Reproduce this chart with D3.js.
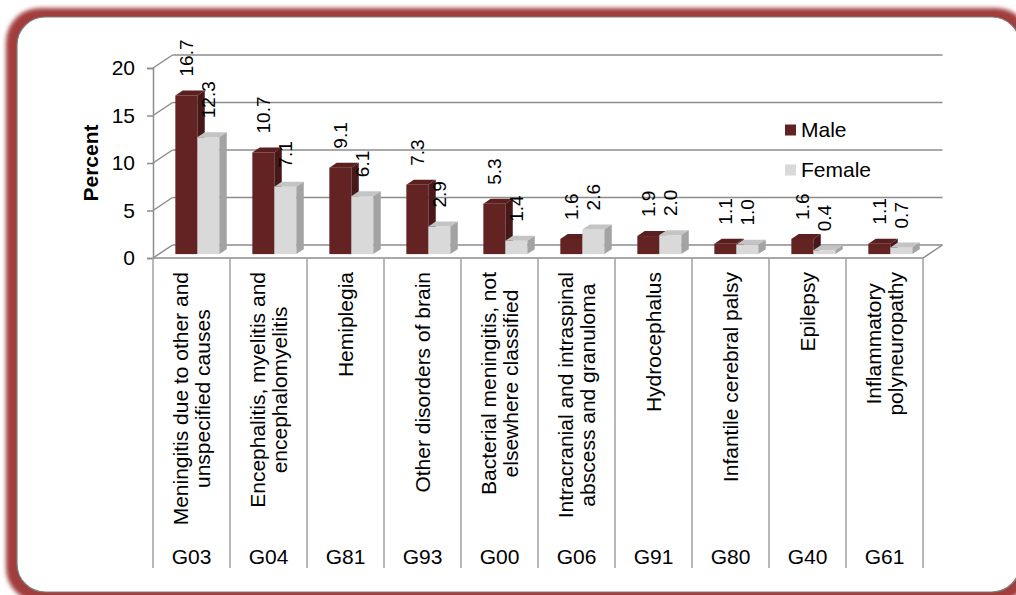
<!DOCTYPE html>
<html><head><meta charset="utf-8">
<script src="https://cdn.jsdelivr.net/npm/d3@7"></script>
<style>
body{margin:0;background:#fff;overflow:hidden}
svg{display:block}
text{font-family:"Liberation Sans",Arial,sans-serif;fill:#000}
</style>
</head><body>
<svg id="c" width="1016" height="595"></svg>
<script>
// ---- data ----
const codes = ["G03","G04","G81","G93","G00","G06","G91","G80","G40","G61"];
const names = [
  ["Meningitis due to other and","unspecified causes"],
  ["Encephalitis, myelitis and","encephalomyelitis"],
  ["Hemiplegia"],
  ["Other disorders of brain"],
  ["Bacterial meningitis, not","elsewhere classified"],
  ["Intracranial and intraspinal","abscess and granuloma"],
  ["Hydrocephalus"],
  ["Infantile cerebral palsy"],
  ["Epilepsy"],
  ["Inflammatory","polyneuropathy"]
];
const male   = [16.7,10.7,9.1,7.3,5.3,1.6,1.9,1.1,1.6,1.1];
const female = [12.3,7.1,6.1,2.9,1.4,2.6,2.0,1.0,0.4,0.7];
const seriesNames = ["Male","Female"];
const yTicks = [0,5,10,15,20];
const yTitle = "Percent";

// ---- layout ----
const svg = d3.select("#c");
const DX = 19.5, DY = -13;           // full depth offset
const T0 = 0.30, TD = 0.38;          // bar depth start / thickness
const x = d3.scaleBand().domain(codes).range([153, 923]).paddingInner(0).paddingOuter(0);
const xs = d3.scaleBand().domain(seriesNames).range([0, x.bandwidth()]).paddingInner(0).paddingOuter(0.75);
const y = d3.scaleLinear().domain([0, 20]).range([258, 68]);
const colors = {
  Male:   {front:"#622322", side:"#471817", top:"#5a1f1e"},
  Female: {front:"#d9d9d9", side:"#a3a3a3", top:"#c4c4c4"}
};
const grid = "#8c8c8c";

// ---- frame ----
const defs = svg.append("defs");
defs.append("filter").attr("id","blur").attr("x","-5%").attr("y","-5%").attr("width","110%").attr("height","110%")
  .append("feGaussianBlur").attr("stdDeviation", 2.2);
svg.append("rect").attr("x",6).attr("y",8).attr("width",1024).attr("height",594).attr("rx",34)
  .attr("fill","#a13c3e").attr("filter","url(#blur)");
svg.append("rect").attr("x",17).attr("y",17).attr("width",1003).attr("height",575).attr("rx",28)
  .attr("fill","#fff").attr("stroke","#7f7f7f").attr("stroke-width",1.2);

const g = svg.append("g");

// back gridlines + diagonals
yTicks.forEach(v => {
  const yy = y(v);
  g.append("line").attr("x1",153).attr("y1",yy).attr("x2",153+DX).attr("y2",yy+DY)
    .attr("stroke",grid).attr("stroke-width",1.5);
  g.append("line").attr("x1",153+DX).attr("y1",yy+DY).attr("x2",923+DX).attr("y2",yy+DY)
    .attr("stroke",grid).attr("stroke-width",1.5);
});
// floor outline
g.append("path").attr("d",`M153,${y(0)}L923,${y(0)}L${923+DX},${y(0)+DY}`)
  .attr("fill","none").attr("stroke",grid).attr("stroke-width",1.5);

// y axis (front)
const yAxis = d3.axisLeft(y).tickValues(yTicks).tickSize(6).tickPadding(12).tickFormat(d3.format("d"));
const ya = g.append("g").attr("transform","translate(153,0)").call(yAxis);
ya.select(".domain").attr("stroke",grid).attr("stroke-width",1.5);
ya.selectAll(".tick line").attr("stroke",grid).attr("stroke-width",1.5);
ya.selectAll(".tick text").attr("font-size",21).attr("font-family",'"Liberation Sans",Arial,sans-serif').attr("fill","#000");

svg.append("text").attr("transform","translate(98,163) rotate(-90)").attr("text-anchor","middle")
  .attr("font-size",21).attr("font-weight","bold").text(yTitle);

// bars
const ox = DX*T0, oy = DY*T0, dx = DX*TD, dy = DY*TD;
codes.forEach((c,i) => {
  const vals = {Male: male[i], Female: female[i]};
  seriesNames.forEach(s => {
    const v = vals[s];
    const x0 = x(c) + xs(s) + ox, x1 = x0 + xs.bandwidth();
    const yt = y(v) + oy, yb = y(0) + oy;
    const col = colors[s];
    g.append("rect").attr("x",x0).attr("y",yt).attr("width",x1-x0).attr("height",yb-yt).attr("fill",col.front);
    g.append("path").attr("d",`M${x0},${yt}L${x1},${yt}L${x1+dx},${yt+dy}L${x0+dx},${yt+dy}Z`).attr("fill",col.top);
    g.append("path").attr("d",`M${x1},${yt}L${x1+dx},${yt+dy}L${x1+dx},${yb+dy}L${x1},${yb}Z`).attr("fill",col.side);
    const cx = (x0+x1)/2;
    g.append("text").attr("transform",`translate(${cx+7},${yt-19}) rotate(-90)`)
      .attr("font-size",19).attr("text-anchor","start").text(d3.format(".1f")(v));
  });
});

// category axis grid (two-level)
const bounds = codes.map(c => x(c)).concat([x(codes[codes.length-1]) + x.bandwidth()]);
bounds.forEach(b => {
  g.append("line").attr("x1",b).attr("y1",y(0)).attr("x2",b).attr("y2",568)
    .attr("stroke","#a0a0a0").attr("stroke-width",1.5);
});
codes.forEach((c,i) => {
  const cxb = x(c) + x.bandwidth()/2;
  const lines = names[i];
  const tg = g.append("g");
  const ts = lines.map(l => tg.append("text").attr("font-size",21).attr("text-anchor","middle").text(l));
  const maxW = d3.max(ts, t => t.node().getComputedTextLength());
  const lh = 22;
  ts.forEach((t,k) => {
    const off = (k - (lines.length-1)/2) * lh;
    t.attr("transform",`translate(${cxb+off},${272+maxW/2}) rotate(-90)`).attr("dy","0.35em");
  });
  g.append("text").attr("x",cxb).attr("y",557).attr("dy","0.35em").attr("text-anchor","middle")
    .attr("font-size",21).text(c);
});

// legend
const leg = svg.append("g");
seriesNames.forEach((s,k) => {
  const yy = 130 + k*40;
  leg.append("rect").attr("x",785).attr("y",yy-5.5).attr("width",11).attr("height",11).attr("fill",colors[s].front);
  leg.append("text").attr("x",801).attr("y",yy).attr("dy","0.35em").attr("font-size",21).text(s);
});
</script>
</body></html>
